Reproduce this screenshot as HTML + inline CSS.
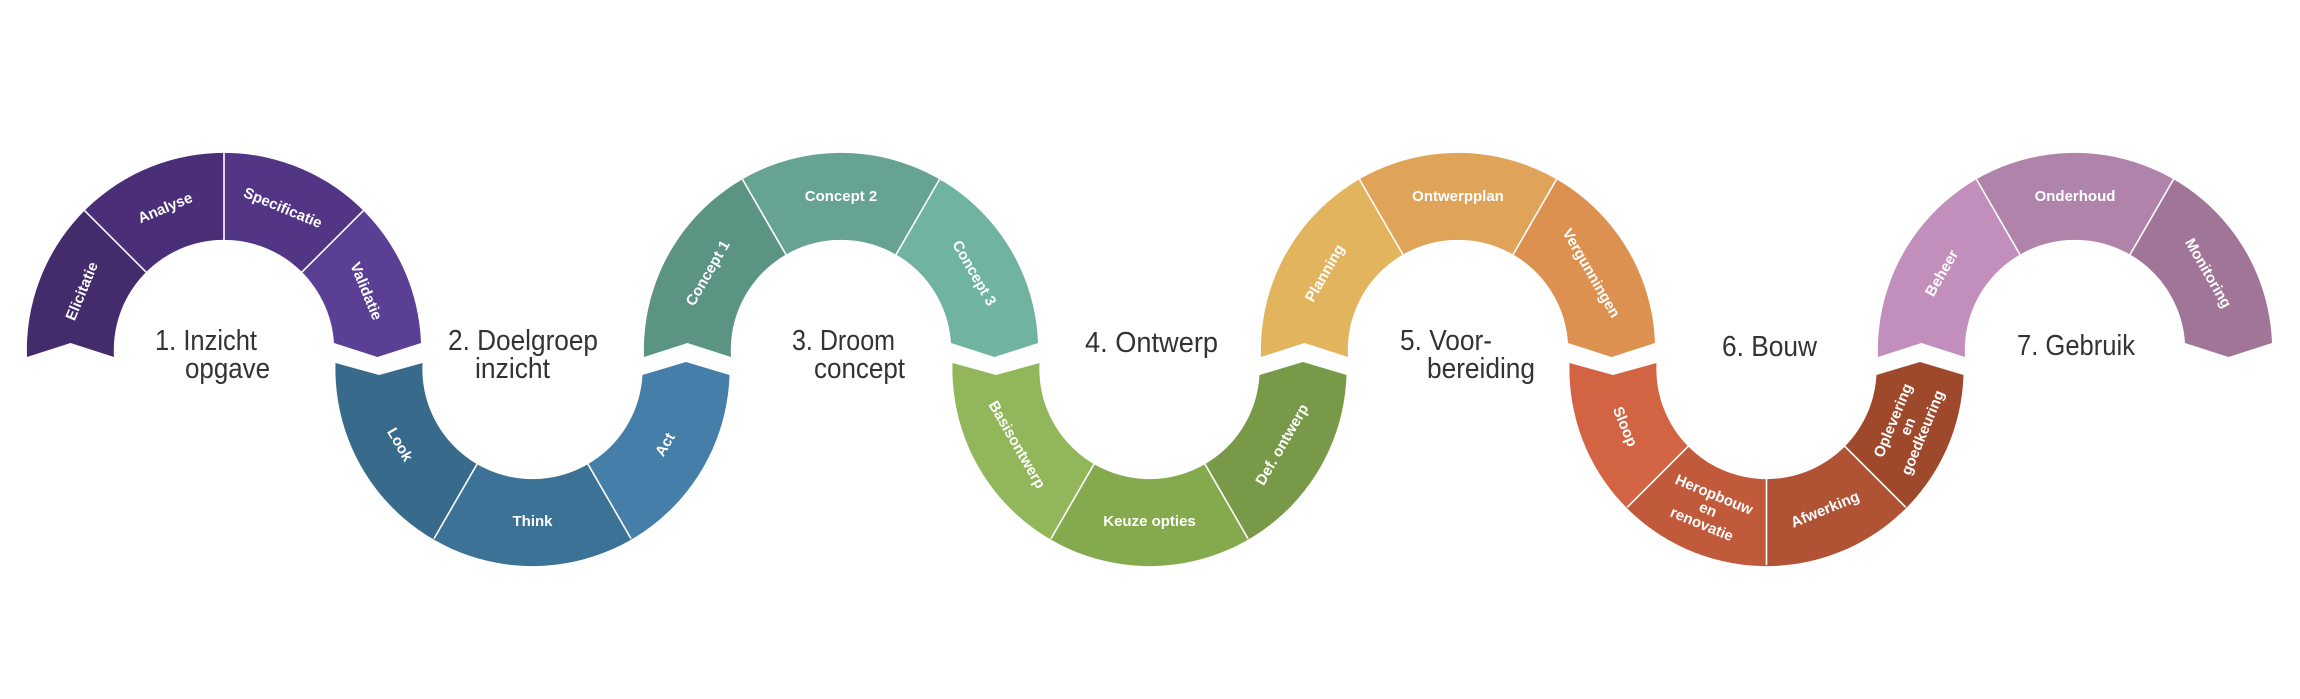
<!DOCTYPE html>
<html><head><meta charset="utf-8"><style>
html,body{margin:0;padding:0;background:#fff;}
svg{display:block;}
.s{font-family:"Liberation Sans",sans-serif;font-size:15px;font-weight:bold;fill:#fff;text-anchor:middle;dominant-baseline:central;}
.t{font-family:"Liberation Sans Narrow","Liberation Sans",sans-serif;font-size:29px;fill:#333;}
.d{stroke:#fff;stroke-width:1.6;}
</style></head><body>
<svg width="2300" height="699" viewBox="0 0 2300 699" xmlns="http://www.w3.org/2000/svg">
<defs>
<clipPath id="ct"><path d="M-197,357 L-153.5,343 L-110,357 A110 110 0 0 1 110,343 L153.5,357 L197,343 A197 197 0 0 0 -197,357 Z"/></clipPath>
<clipPath id="cb"><path d="M-197,363 L-153.5,375 L-110,363 A110 110 0 0 0 110,375 L153.5,362 L197,375 A197 197 0 0 1 -197,363 Z"/></clipPath>
</defs>

<!-- 1 -->
<g transform="translate(224,0)">
<g clip-path="url(#ct)">
<polygon points="0,350 -251.1,417.3 -183.8,166.2" fill="#432b6c"/>
<polygon points="0,350 -183.8,166.2 0,90" fill="#4a2f78"/>
<polygon points="0,350 0,90 183.8,166.2" fill="#523584"/>
<polygon points="0,350 183.8,166.2 251.1,417.3" fill="#5b3f94"/>
</g>
<line class="d" x1="-77.8" y1="272.2" x2="-139.3" y2="210.7"/>
<line class="d" x1="0" y1="240" x2="0" y2="153"/>
<line class="d" x1="77.8" y1="272.2" x2="139.3" y2="210.7"/>
<text class="s" transform="translate(-141.8,291.3) rotate(-67.5)">Elicitatie</text>
<text class="s" transform="translate(-58.7,208.2) rotate(-22.5)">Analyse</text>
<text class="s" transform="translate(58.7,208.2) rotate(22.5)">Specificatie</text>
<text class="s" transform="translate(141.8,291.3) rotate(67.5)">Validatie</text>
</g>

<!-- 2 -->
<g transform="translate(532.5,0)">
<g clip-path="url(#cb)">
<polygon points="0,368 -251.1,300.7 -130,593.2" fill="#386a8b"/>
<polygon points="0,368 -130,593.2 130,593.2" fill="#3d7297"/>
<polygon points="0,368 130,593.2 251.1,300.7" fill="#457ea8"/>
</g>
<line class="d" x1="-55" y1="463.3" x2="-98.5" y2="538.6"/>
<line class="d" x1="55" y1="463.3" x2="98.5" y2="538.6"/>
<text class="s" transform="translate(-132.9,444.8) rotate(60)">Look</text>
<text class="s" transform="translate(0,521.5)">Think</text>
<text class="s" transform="translate(132.9,444.8) rotate(-60)">Act</text>
</g>

<!-- 3 -->
<g transform="translate(841,0)">
<g clip-path="url(#ct)">
<polygon points="0,350 -251.1,417.3 -130,124.8" fill="#5c9484"/>
<polygon points="0,350 -130,124.8 130,124.8" fill="#66a393"/>
<polygon points="0,350 130,124.8 251.1,417.3" fill="#70b3a1"/>
</g>
<line class="d" x1="-55" y1="254.7" x2="-98.5" y2="179.4"/>
<line class="d" x1="55" y1="254.7" x2="98.5" y2="179.4"/>
<text class="s" transform="translate(-132.9,273.3) rotate(-60)">Concept 1</text>
<text class="s" transform="translate(0,196.5)">Concept 2</text>
<text class="s" transform="translate(132.9,273.3) rotate(60)">Concept 3</text>
</g>

<!-- 4 -->
<g transform="translate(1149.5,0)">
<g clip-path="url(#cb)">
<polygon points="0,368 -251.1,300.7 -130,593.2" fill="#92b75b"/>
<polygon points="0,368 -130,593.2 130,593.2" fill="#85a94d"/>
<polygon points="0,368 130,593.2 251.1,300.7" fill="#789a48"/>
</g>
<line class="d" x1="-55" y1="463.3" x2="-98.5" y2="538.6"/>
<line class="d" x1="55" y1="463.3" x2="98.5" y2="538.6"/>
<text class="s" transform="translate(-132.9,444.8) rotate(60)">Basisontwerp</text>
<text class="s" transform="translate(0,521.5)">Keuze opties</text>
<text class="s" transform="translate(132.9,444.8) rotate(-60)">Def. ontwerp</text>
</g>

<!-- 5 -->
<g transform="translate(1458,0)">
<g clip-path="url(#ct)">
<polygon points="0,350 -251.1,417.3 -130,124.8" fill="#e3b45e"/>
<polygon points="0,350 -130,124.8 130,124.8" fill="#e0a35a"/>
<polygon points="0,350 130,124.8 251.1,417.3" fill="#dc9150"/>
</g>
<line class="d" x1="-55" y1="254.7" x2="-98.5" y2="179.4"/>
<line class="d" x1="55" y1="254.7" x2="98.5" y2="179.4"/>
<text class="s" transform="translate(-132.9,273.3) rotate(-60)">Planning</text>
<text class="s" transform="translate(0,196.5)">Ontwerpplan</text>
<text class="s" transform="translate(132.9,273.3) rotate(60)">Vergunningen</text>
</g>

<!-- 6 -->
<g transform="translate(1766.5,0)">
<g clip-path="url(#cb)">
<polygon points="0,368 -251.1,300.7 -183.8,551.8" fill="#d26443"/>
<polygon points="0,368 -183.8,551.8 0,628" fill="#c15a3a"/>
<polygon points="0,368 0,628 183.8,551.8" fill="#b05234"/>
<polygon points="0,368 183.8,551.8 251.1,300.7" fill="#9e482c"/>
</g>
<line class="d" x1="-77.8" y1="445.8" x2="-139.3" y2="507.3"/>
<line class="d" x1="0" y1="478" x2="0" y2="565"/>
<line class="d" x1="77.8" y1="445.8" x2="139.3" y2="507.3"/>
<text class="s" transform="translate(-141.8,426.7) rotate(67.5)">Sloop</text>
<g transform="translate(-58.7,509.8) rotate(22.5)">
<text class="s" y="-16">Heropbouw</text><text class="s" y="0">en</text><text class="s" y="16">renovatie</text></g>
<text class="s" transform="translate(58.7,509.8) rotate(-22.5)">Afwerking</text>
<g transform="translate(141.8,426.7) rotate(-67.5)">
<text class="s" y="-16">Oplevering</text><text class="s" y="0">en</text><text class="s" y="16">goedkeuring</text></g>
</g>

<!-- 7 -->
<g transform="translate(2075,0)">
<g clip-path="url(#ct)">
<polygon points="0,350 -251.1,417.3 -130,124.8" fill="#c28fbd"/>
<polygon points="0,350 -130,124.8 130,124.8" fill="#b084aa"/>
<polygon points="0,350 130,124.8 251.1,417.3" fill="#a07598"/>
</g>
<line class="d" x1="-55" y1="254.7" x2="-98.5" y2="179.4"/>
<line class="d" x1="55" y1="254.7" x2="98.5" y2="179.4"/>
<text class="s" transform="translate(-132.9,273.3) rotate(-60)">Beheer</text>
<text class="s" transform="translate(0,196.5)">Onderhoud</text>
<text class="s" transform="translate(132.9,273.3) rotate(60)">Monitoring</text>
</g>

<!-- step labels -->
<text class="t" x="155" y="350" textLength="102" lengthAdjust="spacingAndGlyphs">1. Inzicht</text>
<text class="t" x="185" y="378" textLength="85" lengthAdjust="spacingAndGlyphs">opgave</text>
<text class="t" x="448" y="350" textLength="150" lengthAdjust="spacingAndGlyphs">2. Doelgroep</text>
<text class="t" x="475" y="378" textLength="75" lengthAdjust="spacingAndGlyphs">inzicht</text>
<text class="t" x="792" y="350" textLength="103" lengthAdjust="spacingAndGlyphs">3. Droom</text>
<text class="t" x="814" y="378" textLength="91" lengthAdjust="spacingAndGlyphs">concept</text>
<text class="t" x="1085" y="352" textLength="133" lengthAdjust="spacingAndGlyphs">4. Ontwerp</text>
<text class="t" x="1400" y="350" textLength="92" lengthAdjust="spacingAndGlyphs">5. Voor-</text>
<text class="t" x="1427" y="378" textLength="108" lengthAdjust="spacingAndGlyphs">bereiding</text>
<text class="t" x="1722" y="356" textLength="95" lengthAdjust="spacingAndGlyphs">6. Bouw</text>
<text class="t" x="2017" y="355" textLength="118" lengthAdjust="spacingAndGlyphs">7. Gebruik</text>
</svg>
</body></html>
